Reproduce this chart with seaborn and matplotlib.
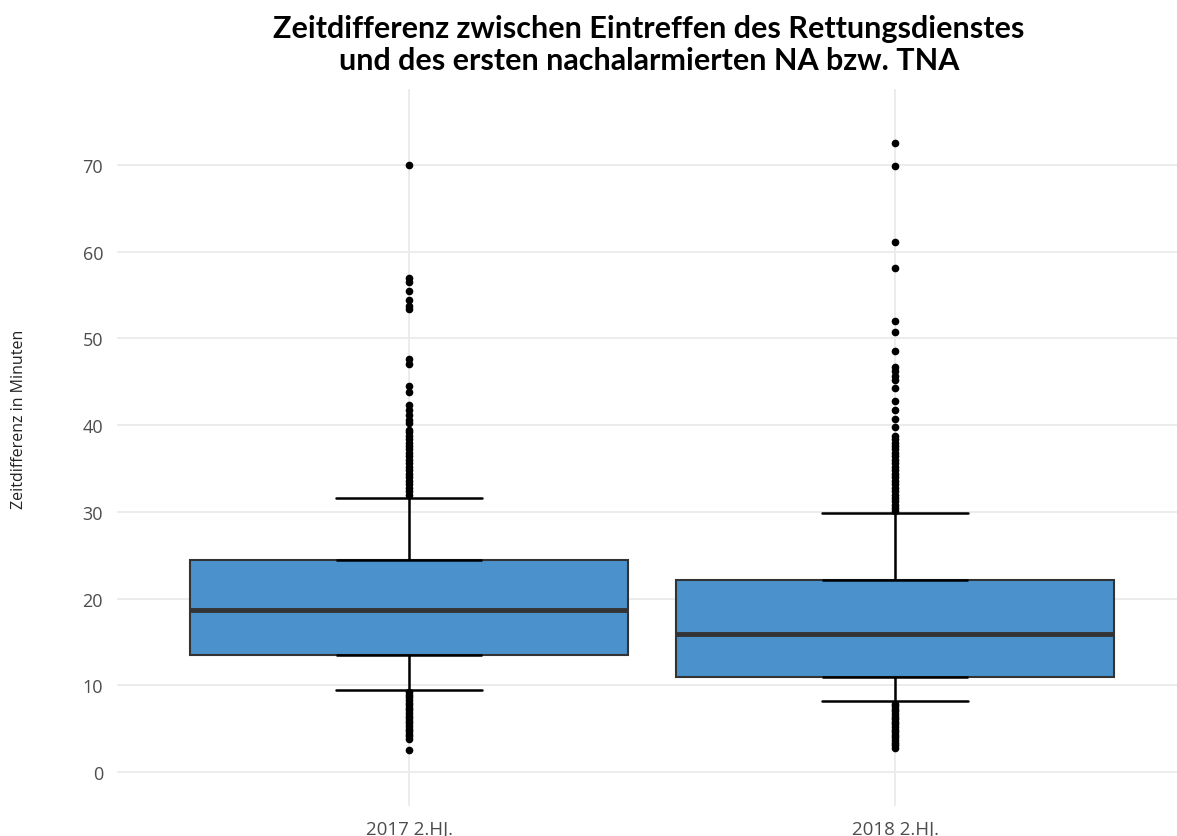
import numpy as np
import pandas as pd
import seaborn as sns
import matplotlib.pyplot as plt

# categories
groups = ["2017 2.HJ.", "2018 2.HJ."]

# outliers (minutes)
high_2017 = [70.0, 57.0, 56.5, 55.5, 54.4, 53.8, 53.4, 47.6, 47.1, 44.5, 43.8,
             42.3, 41.8, 41.2, 40.6, 40.2, 39.5, 39.2, 38.8, 38.4, 38.0, 37.6,
             37.2, 36.8, 36.4, 36.0, 35.6, 35.2, 34.8, 34.4, 34.0, 33.6, 33.2,
             32.8, 32.4, 32.0]
low_2017 = [9.2, 8.9, 8.6, 8.3, 8.0, 7.7, 7.4, 7.1, 6.8, 6.5, 6.2, 5.9, 5.6,
            5.3, 5.0, 4.7, 4.4, 4.1, 3.8, 2.5]
high_2018 = [72.5, 69.9, 61.1, 58.1, 52.0, 50.8, 48.5, 46.7, 46.2, 45.7, 45.2,
             44.3, 42.8, 41.7, 40.7, 39.8, 38.8, 38.4, 38.0, 37.6, 37.2, 36.8,
             36.4, 36.0, 35.6, 35.2, 34.8, 34.4, 34.0, 33.6, 33.2, 32.8, 32.4,
             32.0, 31.6, 31.2, 30.8, 30.4, 30.1]
low_2018 = [7.9, 7.6, 7.3, 7.0, 6.7, 6.4, 6.1, 5.8, 5.5, 5.2, 4.9, 4.6, 4.3,
            4.0, 3.7, 3.4, 3.1, 2.8]

# box body: lower whisker, Q1, median, Q3, upper whisker
core_2017 = [9.45, 13.5, 18.7, 24.45, 31.65]
core_2018 = [8.2, 10.95, 15.9, 22.15, 29.9]
core_counts = [1, 100, 100, 100, 1]

samples = {
    groups[0]: (low_2017, core_2017, high_2017),
    groups[1]: (low_2018, core_2018, high_2018),
}

sns.set_theme(style="whitegrid")
plt.rcParams['font.family'] = ['Open Sans', 'DejaVu Sans']

fig = plt.figure(figsize=(11.77, 8.37), dpi=100)
ax = fig.add_axes([117 / 1177, 30 / 837, 1060 / 1177, 717 / 837])

line_kw = dict(color="black", linewidth=1.8)
for i, g in enumerate(groups):
    low, core, high = samples[g]
    vals = np.concatenate([low, np.repeat(core, core_counts), high])
    df = pd.DataFrame({"gruppe": g, "minuten": vals})
    n = len(vals)
    # whiskers end at the last point before the drawn outliers
    whis = (100 * (len(low) - 0.5) / (n - 1), 100 * (n - 1 - len(high) + 0.5) / (n - 1))
    sns.boxplot(data=df, x="gruppe", y="minuten", order=groups, whis=whis,
                color="#4B92CC", saturation=1, width=0.9, linecolor="#333333",
                linewidth=1.5, fliersize=4.5, capwidths=0.3,
                medianprops=dict(color="#333333", linewidth=3.5),
                whiskerprops=line_kw, capprops=line_kw,
                flierprops=dict(marker="o", markerfacecolor="black",
                                markeredgecolor="black"),
                ax=ax)
    q1, q3 = np.percentile(vals, [25, 75])
    ax.hlines([q1, q3], i - 0.15, i + 0.15, zorder=3, **line_kw)

ax.set_xlim(-0.601, 1.580)
ax.set_ylim(-3.92, 78.77)
ax.set_yticks(range(0, 71, 10))
ax.grid(True, color="#ebebeb", linewidth=1.3)
ax.set_axisbelow(True)
for s in ax.spines.values():
    s.set_visible(False)
ax.tick_params(axis="both", length=0, labelcolor="#4d4d4d")
ax.tick_params(axis="y", pad=10, labelsize=13)
ax.tick_params(axis="x", pad=10, labelsize=13.5)
ax.set_xlabel("")
ax.set_ylabel("Zeitdifferenz in Minuten", fontsize=11.5, color="#222222")
ax.yaxis.set_label_coords(-0.085, 0.54)

fig.text(649 / 1177, 1 - 45 / 837,
         "Zeitdifferenz zwischen Eintreffen des Rettungsdienstes\nund des ersten nachalarmierten NA bzw. TNA",
         ha="center", va="center", fontsize=22, fontweight="bold", color="black",
         family=["Lato", "DejaVu Sans"], linespacing=1.2)

fig.savefig("out.png", dpi=100)
